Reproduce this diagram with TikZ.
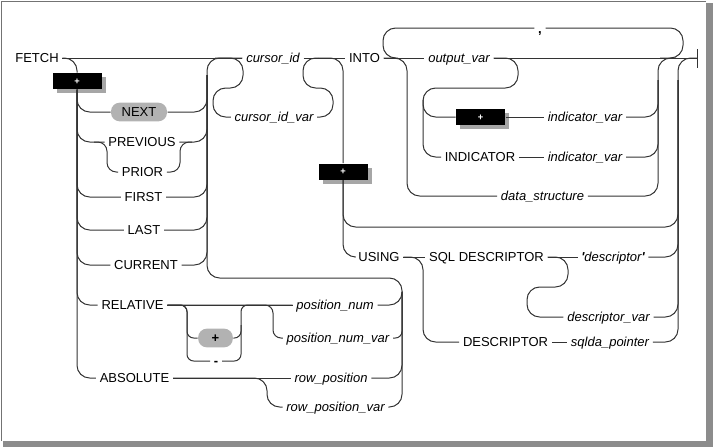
\documentclass[tikz,border=0pt]{standalone}
\usepackage{fontspec}
\setmainfont{Liberation Sans}
\usetikzlibrary{shadows}
\begin{document}
\begin{tikzpicture}[x=0.75pt,y=-0.75pt,line width=0.75pt]
\tikzstyle{every node}=[font=\fontsize{9.75}{11}\selectfont,inner xsep=2.5pt,inner ysep=1pt,text height=7pt,text depth=0pt]
\tikzstyle{var}=[font=\fontsize{9.75}{11}\selectfont\itshape]
\tikzstyle{rail}=[draw=black!80,rounded corners=9.5pt]
\tikzstyle{plusbox}=[fill=black,text=white,minimum width=36.75pt,minimum height=12pt,inner sep=0pt,text height=5pt,font=\fontsize{7}{7}\selectfont\bfseries,general shadow={fill=black!35,shadow xshift=3pt,shadow yshift=-3pt}]
\tikzstyle{pill}=[fill=black!30,rounded corners=6.5pt,minimum height=14pt,inner sep=0pt]
\useasboundingbox (0,0) rectangle (713,447);
\node(fetch) at (37,58) {FETCH};
\node[plusbox](plus1) at (77,81) {+};
\node[pill,minimum width=42pt](next) at (139,112) {NEXT};
\node(previous) at (142,142) {PREVIOUS};
\node(prior) at (142.5,172) {PRIOR};
\node(first) at (143.5,197) {FIRST};
\node(last) at (144,230) {LAST};
\node(current) at (146,265) {CURRENT};
\node(relative) at (132.5,305) {RELATIVE};
\node(absolute) at (134.5,378) {ABSOLUTE};
\node[pill,minimum width=26pt,font=\fontsize{9.75}{11}\selectfont\bfseries](signp) at (215.5,338) {+};
\node[font=\fontsize{9.75}{11}\selectfont\bfseries](signm) at (216,361) {-};
\node[var](posnum) at (335,305) {position\_num};
\node[var](posnumvar) at (338,338) {position\_num\_var};
\node[var](rowpos) at (331,378) {row\_position};
\node[var](rowposvar) at (335.5,407) {row\_position\_var};
\node[var](curid) at (273,58) {cursor\_id};
\node[var](curidvar) at (274,117) {cursor\_id\_var};
\node(into) at (364.5,58) {INTO};
\node[var](outvar) at (459,58) {output\_var};
\node[text height=8pt,text depth=0pt,font=\fontsize{9.75}{11}\selectfont\bfseries](comma) at (540,28) {,};
\node[plusbox](plus3) at (480.5,117) {+};
\node[var](indvar) at (585,117) {indicator\_var};
\node(indicator) at (480,157) {INDICATOR};
\node[var](indvarb) at (585,157) {indicator\_var};
\node[var](datastr) at (542.5,196) {data\_structure};
\node[plusbox](plus2) at (343,171.5) {+};
\node(using) at (379,257) {USING};
\node(sqldesc) at (486.5,257) {SQL DESCRIPTOR};
\node[var](desc) at (613,257) {\textbf{\textquotesingle}descriptor\textbf{\textquotesingle}};
\node[var](descvar) at (608.5,317) {descriptor\_var};
\node(descr) at (505.5,342) {DESCRIPTOR};
\node[var](sqlda) at (610,342) {sqlda\_pointer};
\coordinate(ra) at (207,75);
\coordinate(rb) at (402,291.5);
\coordinate(pva) at (94,142);
\coordinate(pvb) at (192,142);
\coordinate(sr) at (241,325);
\coordinate(ca) at (215,58);
\coordinate(cb) at (318,58);
\coordinate(ib) at (423,100);
\coordinate(ic) at (398,58);
\coordinate(cm) at (660,58);
\coordinate(ri) at (658,58);
\coordinate(rij) at (676,58);
\coordinate(ri2) at (658,80);
\coordinate(rc) at (678,58);
\coordinate(rc2) at (678,80);
\coordinate(skip) at (600,227);
\coordinate(endmark) at (697,58);
\draw[rail] (fetch) -- (curid);
\draw[rail] (curid) -- (into);
\draw[rail] (into) -- (outvar);
\draw[rail] (outvar) -- (endmark);
\draw[rail] (endmark) ++(0,-9) -- ++(0,19);
\draw[rail] (fetch.east) -| (plus1.north);
\draw[rail] (plus1.south) |- (next.west);
\draw[rail] (plus1.south) |- (previous.west);
\draw[rail] (plus1.south) |- (first.west);
\draw[rail] (plus1.south) |- (last.west);
\draw[rail] (plus1.south) |- (current.west);
\draw[rail] (plus1.south) |- (relative.west);
\draw[rail] (plus1.south) |- (absolute.west);
\draw[rail,rounded corners=7pt] (pva) -| (107,172) -- (prior.west);
\draw[rail,rounded corners=7pt] (prior.east) -| (180,142) -- (pvb);
\draw[rail] (next.east) -| (ra);
\draw[rail] (previous.east) -| (ra);
\draw[rail] (first.east) -| (ra);
\draw[rail] (last.east) -| (ra);
\draw[rail] (current.east) -| (ra);
\draw[rail] (curid.west) -| (207,278) -| (rb);
\draw[rail] (relative) -- (posnum);
\draw[rail,rounded corners=5pt] (relative.east) -| (187,338) -- (signp.west);
\draw[rail,rounded corners=5pt] (relative.east) -| (187,361) -- (signm.west);
\draw[rail,rounded corners=5pt] (signp.east) -| (241,305) -- (posnum.west);
\draw[rail,rounded corners=5pt] (signm.east) -| (sr);
\draw[rail,rounded corners=6pt] (relative.east) -| (273,338) -- (posnumvar.west);
\draw[rail] (absolute) -- (rowpos);
\draw[rail] (absolute.east) -| (267,407) -- (rowposvar.west);
\draw[rail] (posnum.east) -| (rb);
\draw[rail,rounded corners=5pt] (posnumvar.east) -| (rb);
\draw[rail] (rowpos.east) -| (rb);
\draw[rail] (rowposvar.east) -| (rb);
\draw[rail] (ca) -| (243,88) -| (213,117) -- (curidvar.west);
\draw[rail] (curidvar.east) -| (333,88) -| (303,58) -- (cb);
\draw[rail] (cb) -| (plus2.north);
\draw[rail] (plus2.south) |- (skip) -| (rc2);
\draw[rail] (plus2.south) |- (using.west);
\draw[rail] (into.east) -| (407,196) -- (datastr.west);
\draw[rail] (datastr.east) -| (ri) -- (rij);
\draw[rail] (cm) -| (683,28) -- (comma);
\draw[rail] (comma) -| (383,58) -- (ic);
\draw[rail] (outvar.east) -| (518,88) -| (423,117) -- (plus3.west);
\draw[rail] (ib) |- (indicator.west);
\draw[rail] (plus3) -- (indvar);
\draw[rail] (indicator) -- (indvarb);
\draw[rail] (indvar.east) -| (ri2);
\draw[rail] (indvarb.east) -| (ri2);
\draw[rail] (using) -- (sqldesc);
\draw[rail] (sqldesc) -- (desc);
\draw[rail] (desc.east) -| (rc2);
\draw[rail] (sqldesc.east) -| (568,287) -| (527,317) -- (descvar.west);
\draw[rail] (descvar.east) -| (rc2);
\draw[rail] (using.east) -| (423,342) -- (descr.west);
\draw[rail] (descr) -- (sqlda);
\draw[rail] (sqlda.east) -| (rc) -- (endmark);
\fill[black!45] (706,3) rectangle (713,447);
\fill[black!45] (3,441) rectangle (713,447);
\draw[black!55] (1,441) |- (706,1);
\end{tikzpicture}
\end{document}
